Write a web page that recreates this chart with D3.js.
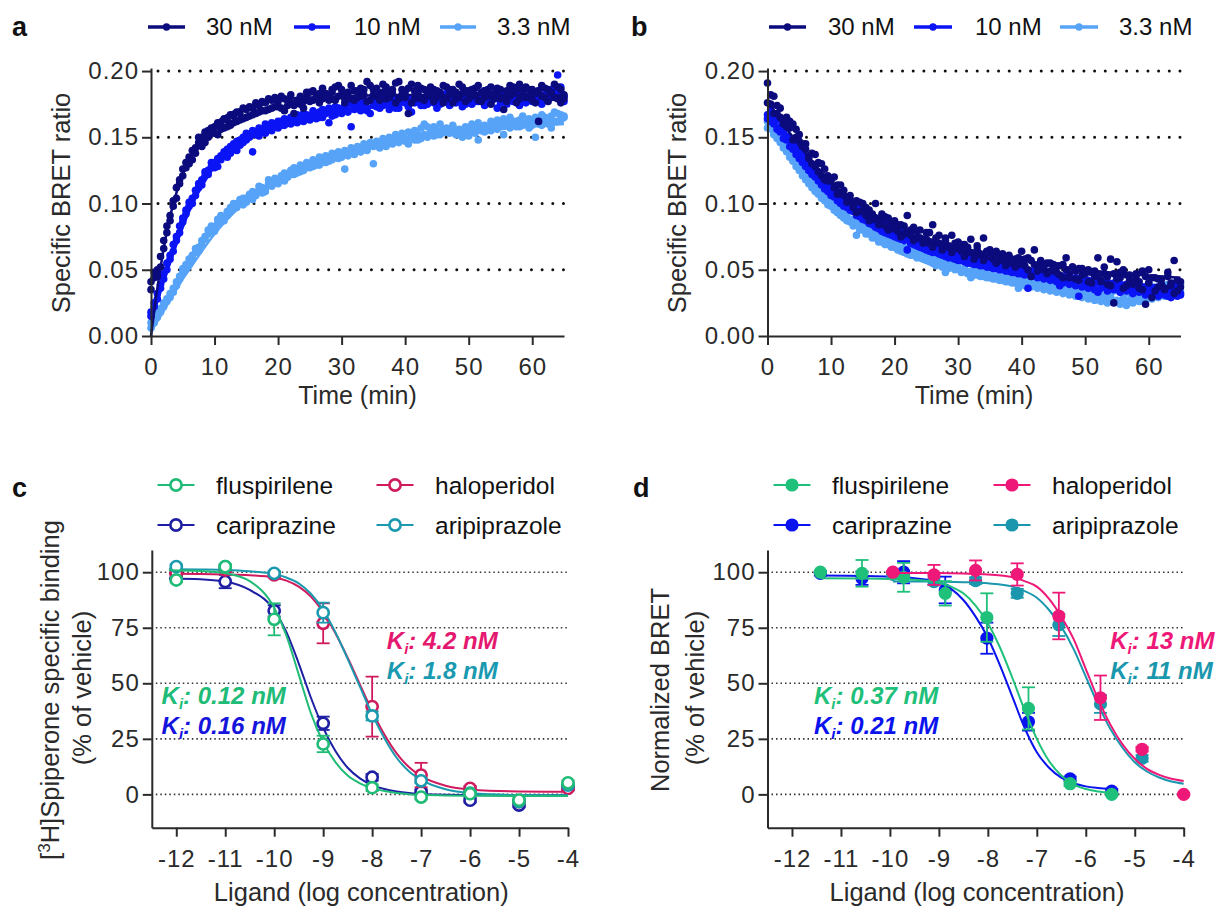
<!DOCTYPE html>
<html>
<head>
<meta charset="utf-8">
<script src="https://cdn.jsdelivr.net/npm/d3@7"></script>
<style>
  body { margin: 0; background: #fff; }
  svg text { font-family: "Liberation Sans", Arial, Helvetica, sans-serif; }
</style>
</head>
<body>
<svg id="chart" width="1220" height="910"></svg>
<script>
// ---------- kinetic BRET reads (a: association, b: dissociation), duplicate wells, one read every 0.5 min ----------
const timeStep = 0.5;

const assoc30 = [
  0.041,0.044,0.050,0.052,0.066,0.078,0.091,0.098,0.104,0.115,
  0.121,0.127,0.135,0.133,0.142,0.146,0.150,0.146,0.155,0.153,
  0.158,0.152,0.160,0.157,0.163,0.159,0.166,0.162,0.168,0.164,
  0.171,0.166,0.172,0.168,0.174,0.170,0.176,0.171,0.178,0.173,
  0.177,0.172,0.179,0.174,0.176,0.168,0.178,0.175,0.177,0.180,
  0.184,0.178,0.182,0.176,0.179,0.183,0.181,0.186,0.178,0.189,
  0.182,0.176,0.184,0.179,0.185,0.180,0.187,0.182,0.192,0.178,
  0.186,0.181,0.183,0.190,0.179,0.184,0.186,0.176,0.192,0.182,
  0.185,0.168,0.190,0.179,0.183,0.187,0.178,0.185,0.181,0.186,
  0.180,0.184,0.176,0.188,0.182,0.186,0.179,0.190,0.183,0.177,
  0.185,0.181,0.187,0.178,0.184,0.180,0.186,0.175,0.183,0.187,
  0.179,0.171,0.185,0.181,0.188,0.176,0.190,0.184,0.180,0.186,
  0.178,0.183,0.162,0.181,0.187,0.177,0.184,0.180,0.188,0.176,
  0.182];
const assoc30b = [
  0.035,0.048,0.045,0.060,0.072,0.083,0.087,0.102,0.112,0.118,
  0.126,0.131,0.130,0.140,0.138,0.150,0.143,0.154,0.150,0.157,
  0.153,0.161,0.156,0.164,0.158,0.167,0.161,0.169,0.163,0.172,
  0.165,0.173,0.167,0.176,0.169,0.177,0.170,0.179,0.172,0.180,
  0.173,0.181,0.170,0.178,0.182,0.174,0.177,0.181,0.172,0.184,
  0.177,0.185,0.179,0.183,0.187,0.180,0.178,0.184,0.188,0.181,
  0.186,0.179,0.183,0.189,0.178,0.185,0.181,0.186,0.177,0.189,
  0.182,0.187,0.178,0.184,0.188,0.180,0.183,0.191,0.179,0.186,
  0.180,0.187,0.176,0.185,0.189,0.179,0.186,0.182,0.188,0.177,
  0.185,0.181,0.189,0.179,0.186,0.176,0.184,0.180,0.188,0.185,
  0.179,0.186,0.182,0.189,0.177,0.185,0.181,0.188,0.179,0.184,
  0.186,0.180,0.177,0.189,0.183,0.186,0.179,0.185,0.188,0.181,
  0.186,0.176,0.185,0.189,0.180,0.186,0.183,0.190,0.179,0.186,
  0.179];
const assoc10 = [
  0.018,0.022,0.028,0.036,0.043,0.050,0.058,0.064,0.072,0.078,
  0.086,0.092,0.098,0.104,0.106,0.112,0.118,0.121,0.125,0.128,
  0.131,0.128,0.136,0.139,0.141,0.138,0.145,0.147,0.144,0.150,
  0.148,0.152,0.139,0.154,0.151,0.156,0.153,0.158,0.155,0.160,
  0.157,0.162,0.159,0.163,0.160,0.165,0.161,0.166,0.162,0.167,
  0.163,0.168,0.164,0.169,0.165,0.170,0.161,0.171,0.167,0.172,
  0.168,0.173,0.169,0.158,0.171,0.175,0.170,0.176,0.172,0.168,
  0.177,0.173,0.178,0.174,0.186,0.171,0.175,0.179,0.172,0.180,
  0.176,0.173,0.169,0.181,0.177,0.174,0.179,0.175,0.182,0.176,
  0.172,0.180,0.177,0.183,0.174,0.179,0.176,0.181,0.173,0.178,
  0.182,0.175,0.180,0.177,0.183,0.174,0.179,0.176,0.181,0.172,
  0.178,0.182,0.175,0.180,0.177,0.184,0.174,0.179,0.176,0.181,
  0.177,0.183,0.178,0.175,0.182,0.179,0.186,0.184,0.197,0.180,
  0.177];
const assoc10b = [
  0.015,0.025,0.032,0.039,0.047,0.055,0.061,0.069,0.075,0.083,
  0.089,0.095,0.101,0.100,0.110,0.115,0.114,0.124,0.122,0.131,
  0.127,0.134,0.133,0.137,0.135,0.143,0.141,0.140,0.148,0.146,
  0.153,0.150,0.155,0.152,0.157,0.154,0.160,0.156,0.161,0.158,
  0.162,0.159,0.164,0.161,0.165,0.162,0.167,0.163,0.168,0.164,
  0.166,0.170,0.167,0.165,0.171,0.168,0.172,0.166,0.173,0.169,
  0.171,0.174,0.170,0.175,0.172,0.176,0.173,0.177,0.170,0.178,
  0.174,0.177,0.172,0.179,0.175,0.181,0.176,0.172,0.180,0.177,
  0.182,0.175,0.179,0.176,0.183,0.178,0.174,0.181,0.177,0.184,
  0.178,0.175,0.182,0.179,0.176,0.183,0.180,0.177,0.182,0.175,
  0.179,0.184,0.177,0.181,0.178,0.185,0.176,0.182,0.179,0.183,
  0.176,0.181,0.178,0.184,0.179,0.182,0.177,0.185,0.180,0.178,
  0.183,0.179,0.185,0.181,0.178,0.184,0.180,0.186,0.182,0.188,
  0.181];
const assoc3 = [
  0.006,0.010,0.014,0.018,0.022,0.026,0.029,0.033,0.038,0.043,
  0.048,0.051,0.054,0.058,0.063,0.067,0.069,0.073,0.077,0.079,
  0.082,0.085,0.087,0.090,0.091,0.094,0.096,0.100,0.101,0.099,
  0.104,0.107,0.103,0.108,0.110,0.112,0.109,0.115,0.113,0.116,
  0.118,0.121,0.117,0.120,0.125,0.122,0.126,0.124,0.128,0.127,
  0.130,0.128,0.132,0.129,0.134,0.131,0.135,0.133,0.137,0.134,
  0.138,0.126,0.136,0.140,0.137,0.141,0.139,0.143,0.140,0.144,
  0.130,0.145,0.142,0.146,0.143,0.148,0.145,0.149,0.146,0.150,
  0.147,0.145,0.151,0.148,0.152,0.149,0.160,0.150,0.153,0.151,
  0.155,0.152,0.156,0.154,0.153,0.157,0.155,0.152,0.150,0.154,
  0.151,0.156,0.153,0.148,0.157,0.154,0.158,0.155,0.159,0.156,
  0.160,0.152,0.161,0.157,0.162,0.158,0.163,0.159,0.161,0.157,
  0.162,0.150,0.164,0.159,0.165,0.160,0.166,0.162,0.168,0.163,
  0.165];
const assoc3b = [
  0.010,0.013,0.017,0.021,0.025,0.028,0.032,0.036,0.041,0.045,
  0.051,0.054,0.058,0.061,0.066,0.064,0.072,0.075,0.080,0.083,
  0.079,0.088,0.091,0.087,0.094,0.097,0.100,0.097,0.103,0.104,
  0.101,0.104,0.109,0.106,0.113,0.108,0.111,0.118,0.116,0.119,
  0.115,0.118,0.123,0.120,0.122,0.127,0.123,0.129,0.125,0.131,
  0.127,0.133,0.129,0.135,0.131,0.136,0.132,0.138,0.135,0.139,
  0.135,0.140,0.137,0.142,0.138,0.143,0.139,0.145,0.141,0.146,
  0.143,0.147,0.144,0.149,0.145,0.150,0.146,0.152,0.148,0.153,
  0.149,0.154,0.150,0.155,0.148,0.157,0.152,0.158,0.154,0.158,
  0.152,0.160,0.154,0.157,0.155,0.159,0.152,0.156,0.154,0.158,
  0.156,0.160,0.157,0.161,0.155,0.159,0.156,0.162,0.158,0.163,
  0.158,0.164,0.159,0.165,0.160,0.162,0.158,0.166,0.161,0.164,
  0.159,0.165,0.160,0.167,0.161,0.164,0.157,0.169,0.162,0.167,
  0.166];

const dissoc30 = [
  0.191,0.175,0.181,0.168,0.172,0.160,0.165,0.157,0.160,0.150,
  0.152,0.143,0.145,0.134,0.138,0.128,0.131,0.121,0.126,0.117,
  0.119,0.112,0.114,0.108,0.110,0.104,0.106,0.097,0.102,0.094,
  0.100,0.091,0.095,0.088,0.100,0.086,0.092,0.083,0.089,0.081,
  0.087,0.079,0.084,0.077,0.091,0.076,0.082,0.074,0.080,0.072,
  0.078,0.070,0.084,0.071,0.076,0.068,0.074,0.067,0.076,0.066,
  0.071,0.064,0.069,0.063,0.073,0.062,0.068,0.061,0.074,0.060,
  0.065,0.058,0.064,0.057,0.062,0.056,0.061,0.055,0.058,0.054,
  0.064,0.053,0.059,0.045,0.065,0.052,0.057,0.050,0.055,0.049,
  0.054,0.048,0.053,0.044,0.059,0.047,0.052,0.043,0.051,0.046,
  0.049,0.041,0.048,0.045,0.059,0.042,0.047,0.039,0.058,0.025,
  0.056,0.044,0.050,0.038,0.046,0.041,0.045,0.036,0.049,0.024,
  0.050,0.029,0.044,0.037,0.043,0.035,0.048,0.040,0.057,0.034,
  0.041];
const dissoc30b = [
  0.176,0.182,0.168,0.174,0.165,0.163,0.158,0.162,0.148,0.156,
  0.147,0.145,0.141,0.136,0.130,0.137,0.124,0.130,0.118,0.121,
  0.117,0.120,0.107,0.114,0.106,0.101,0.103,0.099,0.093,0.101,
  0.094,0.097,0.087,0.092,0.089,0.084,0.088,0.090,0.080,0.086,
  0.082,0.084,0.075,0.083,0.078,0.080,0.072,0.079,0.074,0.070,
  0.073,0.078,0.067,0.074,0.070,0.065,0.072,0.068,0.063,0.070,
  0.066,0.069,0.060,0.067,0.063,0.058,0.065,0.062,0.057,0.064,
  0.060,0.063,0.055,0.061,0.058,0.053,0.060,0.057,0.052,0.059,
  0.055,0.058,0.050,0.057,0.054,0.049,0.056,0.052,0.047,0.055,
  0.051,0.053,0.046,0.054,0.050,0.044,0.052,0.049,0.042,0.051,
  0.047,0.050,0.040,0.049,0.046,0.041,0.052,0.045,0.038,0.047,
  0.043,0.048,0.036,0.046,0.042,0.039,0.047,0.041,0.035,0.045,
  0.040,0.044,0.034,0.043,0.039,0.036,0.045,0.038,0.032,0.042,
  0.037];
const dissoc10 = [
  0.167,0.171,0.160,0.163,0.154,0.155,0.148,0.149,0.141,0.142,
  0.134,0.137,0.128,0.131,0.122,0.125,0.117,0.119,0.111,0.115,
  0.106,0.110,0.102,0.106,0.098,0.102,0.095,0.098,0.091,0.095,
  0.088,0.092,0.085,0.089,0.082,0.087,0.079,0.084,0.077,0.081,
  0.075,0.079,0.073,0.077,0.065,0.075,0.069,0.073,0.067,0.071,
  0.065,0.069,0.063,0.067,0.062,0.066,0.060,0.064,0.059,0.062,
  0.057,0.061,0.056,0.060,0.055,0.059,0.054,0.057,0.053,0.056,
  0.052,0.055,0.051,0.054,0.050,0.053,0.049,0.052,0.048,0.051,
  0.047,0.050,0.036,0.049,0.046,0.048,0.045,0.047,0.044,0.047,
  0.043,0.046,0.038,0.045,0.042,0.044,0.041,0.044,0.030,0.043,
  0.040,0.042,0.039,0.042,0.033,0.041,0.038,0.041,0.037,0.040,
  0.044,0.039,0.036,0.039,0.035,0.038,0.041,0.037,0.034,0.037,
  0.040,0.036,0.033,0.036,0.039,0.035,0.030,0.035,0.038,0.034,
  0.032];
const dissoc10b = [
  0.164,0.162,0.166,0.156,0.158,0.149,0.151,0.143,0.146,0.137,
  0.140,0.131,0.134,0.125,0.128,0.120,0.122,0.114,0.117,0.109,
  0.112,0.105,0.108,0.100,0.104,0.097,0.100,0.094,0.096,0.090,
  0.093,0.087,0.090,0.084,0.087,0.081,0.084,0.078,0.082,0.076,
  0.080,0.074,0.078,0.072,0.075,0.070,0.073,0.068,0.072,0.066,
  0.070,0.064,0.068,0.063,0.066,0.061,0.065,0.059,0.063,0.058,
  0.062,0.057,0.060,0.055,0.059,0.054,0.058,0.053,0.057,0.052,
  0.056,0.051,0.054,0.050,0.053,0.049,0.052,0.048,0.051,0.047,
  0.050,0.046,0.049,0.045,0.048,0.044,0.047,0.043,0.046,0.042,
  0.046,0.041,0.045,0.040,0.044,0.039,0.043,0.038,0.042,0.037,
  0.042,0.036,0.041,0.035,0.040,0.036,0.039,0.034,0.038,0.035,
  0.038,0.033,0.037,0.034,0.036,0.032,0.035,0.033,0.034,0.031,
  0.035,0.032,0.034,0.030,0.033,0.031,0.032,0.029,0.031,0.030,
  0.031];
const dissoc3 = [
  0.162,0.158,0.154,0.151,0.146,0.145,0.139,0.138,0.132,0.131,
  0.125,0.124,0.118,0.119,0.112,0.113,0.107,0.108,0.102,0.103,
  0.098,0.098,0.093,0.095,0.089,0.091,0.086,0.087,0.076,0.084,
  0.080,0.082,0.077,0.079,0.074,0.076,0.071,0.074,0.069,0.072,
  0.067,0.069,0.064,0.067,0.062,0.065,0.061,0.063,0.059,0.062,
  0.057,0.060,0.055,0.058,0.054,0.057,0.048,0.055,0.052,0.054,
  0.052,0.049,0.051,0.048,0.044,0.049,0.046,0.048,0.045,0.047,
  0.044,0.046,0.043,0.045,0.042,0.045,0.041,0.044,0.040,0.036,
  0.042,0.039,0.041,0.038,0.040,0.037,0.040,0.036,0.039,0.035,
  0.038,0.034,0.037,0.033,0.036,0.032,0.036,0.031,0.035,0.030,
  0.034,0.031,0.035,0.027,0.034,0.031,0.027,0.033,0.030,0.034,
  0.026,0.033,0.029,0.024,0.032,0.028,0.033,0.029,0.035,0.030,
  0.036,0.032,0.037,0.033,0.038,0.034,0.039,0.035,0.040,0.036,
  0.039];
const dissoc3b = [
  0.157,0.160,0.152,0.149,0.148,0.142,0.142,0.135,0.136,0.128,
  0.129,0.121,0.122,0.115,0.116,0.109,0.111,0.104,0.106,0.099,
  0.101,0.095,0.096,0.091,0.092,0.087,0.088,0.083,0.085,0.080,
  0.082,0.077,0.079,0.074,0.076,0.071,0.073,0.069,0.071,0.067,
  0.069,0.065,0.066,0.063,0.064,0.061,0.062,0.059,0.061,0.058,
  0.059,0.056,0.058,0.053,0.056,0.052,0.055,0.051,0.053,0.050,
  0.051,0.048,0.050,0.047,0.049,0.046,0.048,0.045,0.047,0.044,
  0.046,0.043,0.045,0.042,0.044,0.041,0.043,0.040,0.042,0.039,
  0.041,0.038,0.040,0.037,0.039,0.036,0.038,0.035,0.037,0.034,
  0.036,0.033,0.035,0.032,0.034,0.031,0.033,0.030,0.032,0.029,
  0.031,0.028,0.030,0.027,0.030,0.026,0.029,0.025,0.028,0.026,
  0.027,0.024,0.026,0.023,0.027,0.025,0.029,0.026,0.030,0.027,
  0.031,0.028,0.032,0.029,0.033,0.030,0.034,0.031,0.035,0.032,
  0.034];

// fitted curves
const fitTimesA = [0,1,2,3,4,5,6,8,10,12,15,20,25,30,40,50,65];
const fitAssoc30 = [0,0.036,0.066,0.090,0.108,0.122,0.133,0.149,0.160,0.167,0.173,0.178,0.180,0.181,0.182,0.182,0.182];
const fitAssoc10 = [0.012,0.026,0.041,0.055,0.069,0.082,0.094,0.113,0.128,0.139,0.150,0.160,0.166,0.170,0.175,0.177,0.179];
const fitAssoc3  = [0.003,0.011,0.019,0.027,0.035,0.043,0.050,0.064,0.077,0.088,0.102,0.118,0.129,0.137,0.148,0.154,0.160];
const fitTimesB = [0,2,5,10,15,20,25,30,40,50,65];
const fitDissoc30 = [0.178,0.163,0.144,0.116,0.097,0.084,0.074,0.067,0.057,0.050,0.044];
const fitDissoc10 = [0.170,0.155,0.135,0.107,0.089,0.076,0.067,0.060,0.050,0.043,0.037];
const fitDissoc3  = [0.157,0.145,0.126,0.099,0.081,0.068,0.059,0.052,0.043,0.037,0.034];

const kineticLabels = ["30 nM", "10 nM", "3.3 nM"];
const kineticColors = ["#0b0b7d", "#0a14f5", "#56a3f8"];

// ---------- c: [3H]spiperone competition binding ----------
const logConcC = [-12,-11,-10,-9,-8,-7,-6,-5,-4];
const bindFlu = [96.5,102.5,78.8,22.7,3.0,-1.2,0.3,-2.6,5.2];
const bindFluErr = [1,1,7.2,3.7,1.5,1,1,1,1];
const bindCar = [97.3,95.8,82.6,32.0,7.7,1.2,-2.6,-4.8,3.2];
const bindCarErr = [1,3,2.5,3,1.5,1,1,1,1];
const bindHal = [99.5,101.0,98.8,77.0,39.5,8.7,2.7,-3.3,2.7];
const bindHalErr = [1,1,1,9,13.5,5.5,1,1,1];
const bindAri = [102.5,102.5,99.5,81.8,35.3,6.1,0.5,-3.3,4.2];
const bindAriErr = [1,1,1,4.5,2,1,1,1,1];

const fitGridC = [-12.15,-11.5,-11,-10.5,-10,-9.75,-9.5,-9.25,-9,-8.75,-8.5,-8.25,-8,-7.75,-7.5,-7.25,-7,-6.5,-6,-5,-4];
const fitFluC = [100.9,100.6,99.6,96,84,71.5,54,36.5,23.5,14.5,8.5,5,2.8,1.5,0.6,0.1,-0.2,-0.5,-0.6,-0.7,-0.7];
const fitCarC = [97.2,96.8,95.8,92,83,73,59,43.5,30,19.5,12,7.2,4.2,2.4,1.3,0.6,0.2,-0.2,-0.3,-0.4,-0.4];
const fitHalC = [99.3,99.2,99,98.6,97.6,96.2,93.5,89,82,72.5,61.5,49.5,37.5,27,18.5,12.3,8.2,3.9,2.2,1.3,1.2];
const fitAriC = [101.3,101.2,101,100.4,99.2,97.6,95,90.3,83,73,61,48.5,36,25.3,16.5,10.4,6.5,2.3,0.6,-0.3,-0.4];

// ---------- d: normalized BRET competition ----------
const logConcD1 = [-11.42,-10.57,-9.72,-8.87,-8.02,-7.17,-6.32,-5.47]; // fluspirilene, cariprazine
const logConcD2 = [-9.94,-9.1,-8.25,-7.4,-6.55,-5.7,-4.85,-4.0];      // haloperidol, aripiprazole
const bretFlu = [100,99.5,97.7,90.5,79.6,38.7,4.8,0];
const bretFluErr = [0,6,6.5,5.5,10.9,9.5,1,0.5];
const bretCar = [99.5,97.3,100,92,70.3,32.7,7,1.5];
const bretCarErr = [1,3,5,6,7,4,1,1];
const bretHal = [100,98.8,100.8,99,80.3,43.5,20.3,0];
const bretHalErr = [0.5,4.5,4.5,5,10.5,10,1,0.5];
const bretAri = [99,95.8,96.2,90.5,76.3,40.7,16.2,null];
const bretAriErr = [1,1.5,1.5,2,5,4,1.5,0];

const fitGridD1 = [-11.42,-10.5,-10,-9.5,-9,-8.75,-8.5,-8.25,-8,-7.75,-7.5,-7.25,-7,-6.75,-6.5,-6.25,-6,-5.75,-5.47];
const fitFluD = [97.3,97.2,97,96.6,95.3,93.5,90.5,85,77,66,52.5,38,25,15,8.5,4.5,2.4,1.3,0.7];
const fitCarD = [98.5,98.3,98,97.3,95.5,92.5,87.5,80,70.5,58,44,30,19,12,7.5,5,3.6,2.9,2.4];
const fitGridD2 = [-9.94,-9.5,-9,-8.5,-8,-7.5,-7.25,-7,-6.75,-6.5,-6.25,-6,-5.75,-5.5,-5.25,-5,-4.75,-4.5,-4.25,-4];
const fitHalD = [99.7,99.7,99.6,99.4,99,97.8,96,93.5,88,80,70,56.5,43,31.5,22.5,16,11.5,8.8,7,6];
const fitAriD = [95.8,95.8,95.7,95.5,95,93.5,91.5,88.5,83,75.5,65.5,53,40.5,29.5,21,14.5,10.3,7.6,5.8,4.8];

const drugNames = ["fluspirilene", "haloperidol", "cariprazine", "aripiprazole"];

// ---------- drawing ----------
const svg = d3.select("#chart");
const ink = "#2a2a2a";

function styleAxis(g, size) {
  g.attr("font-family", null).attr("font-size", size).attr("color", ink);
  g.select(".domain").attr("stroke-width", 2);
  g.selectAll(".tick line").attr("stroke-width", 2);
  g.selectAll(".tick text").attr("fill", ink).style("letter-spacing", "1px");
}

function panelLetter(x, y, t) {
  svg.append("text").attr("x", x).attr("y", y).attr("dy", "0.35em")
    .attr("font-size", 27).attr("font-weight", "bold").attr("fill", "#111").text(t);
}

function kineticPanel(cfg) {
  const x = d3.scaleLinear().domain([0, 65]).range([cfg.left, cfg.left + 413]);
  const y = d3.scaleLinear().domain([0, 0.2023]).range([336, 68]);
  const g = svg.append("g");

  // dotted reference lines
  g.selectAll(".grid").data([0.05, 0.1, 0.15, 0.2]).join("line")
    .attr("x1", x(0) + 7).attr("x2", x(65))
    .attr("y1", d => y(d)).attr("y2", d => y(d))
    .attr("stroke", "#111").attr("stroke-width", 3)
    .attr("stroke-linecap", "round").attr("stroke-dasharray", "0 10.67");

  const line = d3.line().x(d => x(d[0])).y(d => y(d[1])).curve(d3.curveMonotoneX);
  // draw 3.3 nM first so 30 nM sits on top
  [2, 1, 0].forEach(k => {
    const s = cfg.series[k];
    s.reps.forEach(rep => {
      g.append("g").selectAll("circle").data(rep).join("circle")
        .attr("cx", (d, i) => x(i * timeStep)).attr("cy", d => y(d))
        .attr("r", 3.8).attr("fill", kineticColors[k]);
    });
    g.append("path").datum(d3.zip(cfg.fitTimes, s.fit))
      .attr("fill", "none").attr("stroke", kineticColors[k])
      .attr("stroke-width", 2.5).attr("d", line);
  });

  const xAxis = g.append("g").attr("transform", `translate(0,${y(0)})`)
    .call(d3.axisBottom(x).tickValues([0, 10, 20, 30, 40, 50, 60])
      .tickSize(9).tickSizeOuter(0).tickPadding(13));
  styleAxis(xAxis, 24);
  const yAxis = g.append("g").attr("transform", `translate(${x(0)},0)`)
    .call(d3.axisLeft(y).tickValues([0, 0.05, 0.1, 0.15, 0.2])
      .tickFormat(d3.format(".2f")).tickSize(9).tickSizeOuter(0).tickPadding(3));
  styleAxis(yAxis, 24);

  g.append("text").attr("transform", `translate(${cfg.left - 90},203) rotate(-90)`)
    .attr("text-anchor", "middle").attr("dy", "0.35em")
    .attr("font-size", 25.5).attr("fill", ink).text("Specific BRET ratio");
  g.append("text").attr("x", cfg.left + 206.5).attr("y", 395).attr("dy", "0.35em")
    .attr("text-anchor", "middle").attr("font-size", 25).attr("fill", ink).text("Time (min)");

  // legend
  cfg.legend.forEach((L, k) => {
    const lg = svg.append("g");
    lg.append("line").attr("x1", L[0]).attr("x2", L[1]).attr("y1", 27).attr("y2", 27)
      .attr("stroke", kineticColors[k]).attr("stroke-width", 3.5);
    lg.append("circle").attr("cx", (L[0] + L[1]) / 2).attr("cy", 27).attr("r", 3.7)
      .attr("fill", kineticColors[k]);
    lg.append("text").attr("x", L[2]).attr("y", 27).attr("dy", "0.35em")
      .attr("font-size", 24).attr("fill", "#111").text(kineticLabels[k]);
  });
}

kineticPanel({
  left: 151, fitTimes: fitTimesA,
  series: [{reps: [assoc30, assoc30b], fit: fitAssoc30},
           {reps: [assoc10, assoc10b], fit: fitAssoc10},
           {reps: [assoc3, assoc3b], fit: fitAssoc3}],
  legend: [[148, 185, 206], [294, 330, 354], [440, 476, 497]]
});
kineticPanel({
  left: 767.5, fitTimes: fitTimesB,
  series: [{reps: [dissoc30, dissoc30b], fit: fitDissoc30},
           {reps: [dissoc10, dissoc10b], fit: fitDissoc10},
           {reps: [dissoc3, dissoc3b], fit: fitDissoc3}],
  legend: [[769, 806, 828], [914, 952, 975], [1060, 1098, 1119]]
});
panelLetter(12, 27, "a");
panelLetter(631, 27, "b");

function ki(g, px, py, color, value) {
  const t = g.append("text").attr("x", px).attr("y", py)
    .attr("font-size", 24).attr("font-weight", "bold").attr("font-style", "italic").attr("fill", color);
  t.append("tspan").text("K");
  t.append("tspan").attr("font-size", 15).attr("dy", 5).text("i");
  t.append("tspan").attr("dy", -5).text(": " + value);
}

function competitionPanel(cfg) {
  const x = d3.scaleLinear().domain([-12.5, -4]).range([cfg.left, cfg.left + 416.2]);
  const y = d3.scaleLinear().domain([-15, 110]).range([827.7, 550]);
  const g = svg.append("g");

  g.selectAll(".grid").data([0, 25, 50, 75, 100]).join("line")
    .attr("x1", x(-12.5) + 4).attr("x2", x(-4))
    .attr("y1", d => y(d)).attr("y2", d => y(d))
    .attr("stroke", "#333").attr("stroke-width", 1.6).attr("stroke-dasharray", "1.5 3");

  const line = d3.line().x(d => x(d[0])).y(d => y(d[1])).curve(d3.curveMonotoneX);
  cfg.series.forEach(s => {
    const sg = g.append("g");
    sg.append("path").datum(d3.zip(s.fitX, s.fit))
      .attr("fill", "none").attr("stroke", s.color).attr("stroke-width", 2).attr("d", line);
    const pts = d3.zip(s.xs, s.ys, s.err).filter(d => d[1] != null);
    const eb = sg.selectAll(".eb").data(pts.filter(d => d[2] > 0)).join("g")
      .attr("stroke", s.color).attr("stroke-width", 1.8);
    eb.append("line").attr("x1", d => x(d[0])).attr("x2", d => x(d[0]))
      .attr("y1", d => y(d[1] - d[2])).attr("y2", d => y(d[1] + d[2]));
    eb.append("line").attr("x1", d => x(d[0]) - 6.5).attr("x2", d => x(d[0]) + 6.5)
      .attr("y1", d => y(d[1] + d[2])).attr("y2", d => y(d[1] + d[2]));
    eb.append("line").attr("x1", d => x(d[0]) - 6.5).attr("x2", d => x(d[0]) + 6.5)
      .attr("y1", d => y(d[1] - d[2])).attr("y2", d => y(d[1] - d[2]));
    sg.selectAll("circle").data(pts).join("circle")
      .attr("cx", d => x(d[0])).attr("cy", d => y(d[1]))
      .attr("r", cfg.open ? 5.6 : 6.6)
      .attr("fill", cfg.open ? "#fff" : s.color)
      .attr("stroke", cfg.open ? s.color : "none").attr("stroke-width", 2.6);
  });

  const xAxis = g.append("g").attr("transform", `translate(0,827.7)`)
    .call(d3.axisBottom(x).tickValues(d3.range(-12, -3)).tickFormat(d => String(d))
      .tickSize(9).tickSizeOuter(0).tickPadding(13));
  styleAxis(xAxis, 24);
  const yAxis = g.append("g").attr("transform", `translate(${cfg.left},0)`)
    .call(d3.axisLeft(y).tickValues([0, 25, 50, 75, 100])
      .tickSize(9).tickSizeOuter(0).tickPadding(3));
  styleAxis(yAxis, 24);

  g.append("text").attr("x", cfg.left + 209.5).attr("y", 901)
    .attr("text-anchor", "middle").attr("font-size", 25.5).attr("fill", ink)
    .text("Ligand (log concentration)");
  const t1 = g.append("text").attr("transform", `translate(${cfg.title[0]},690) rotate(-90)`)
    .attr("text-anchor", "middle").attr("dy", "0.35em").attr("font-size", 25.5).attr("fill", ink);
  if (cfg.open) {
    t1.append("tspan").text("[");
    t1.append("tspan").attr("font-size", 17).attr("dy", -9).text("3");
    t1.append("tspan").attr("dy", 9).text("H]Spiperone specific binding");
  } else {
    t1.text("Normalized BRET");
  }
  g.append("text").attr("transform", `translate(${cfg.title[1]},688) rotate(-90)`)
    .attr("text-anchor", "middle").attr("dy", "0.35em").attr("font-size", 25.5).attr("fill", ink)
    .text("(% of vehicle)");

  cfg.ki.forEach(k => ki(g, x(k[0]), y(k[1]), k[2], k[3]));

  // legend: two rows, two columns
  drugNames.forEach((name, i) => {
    const col = i % 2, row = Math.floor(i / 2);
    const lx = cfg.legendX[col], ly = row === 0 ? 485 : 525;
    const color = cfg.legendColors[i];
    const lg = svg.append("g");
    lg.append("line").attr("x1", lx - 18.5).attr("x2", lx + 18.5).attr("y1", ly).attr("y2", ly)
      .attr("stroke", color).attr("stroke-width", 2);
    lg.append("circle").attr("cx", lx).attr("cy", ly).attr("r", cfg.open ? 5.6 : 6.6)
      .attr("fill", cfg.open ? "#fff" : color).attr("stroke", cfg.open ? color : "none")
      .attr("stroke-width", 2.6);
    lg.append("text").attr("x", lx + 40).attr("y", ly).attr("dy", "0.35em")
      .attr("font-size", 24.5).attr("fill", "#111").text(name);
  });
}

// colours per drug (legend order: fluspirilene, haloperidol, cariprazine, aripiprazole)
const colorsC = ["#20bb76", "#cf1a5e", "#1e1fa3", "#1b99ae"];
const colorsD = ["#1fc07a", "#ee1878", "#0a12ee", "#1a97ad"];

competitionPanel({
  left: 151.8, open: true, title: [49.7, 82], legendX: [176, 395], legendColors: colorsC,
  series: [
    {color: colorsC[2], xs: logConcC, ys: bindCar, err: bindCarErr, fitX: fitGridC, fit: fitCarC},
    {color: colorsC[1], xs: logConcC, ys: bindHal, err: bindHalErr, fitX: fitGridC, fit: fitHalC},
    {color: colorsC[3], xs: logConcC, ys: bindAri, err: bindAriErr, fitX: fitGridC, fit: fitAriC},
    {color: colorsC[0], xs: logConcC, ys: bindFlu, err: bindFluErr, fitX: fitGridC, fit: fitFluC}
  ],
  ki: [[-7.7, 65.5, "#e4186e", "4.2 nM"], [-7.7, 52, "#1a9ab0", "1.8 nM"],
       [-12.3, 40.5, "#20bb76", "0.12 nM"], [-12.3, 27, "#1414dc", "0.16 nM"]]
});
competitionPanel({
  left: 767.5, open: false, title: [660.5, 695.5], legendX: [792, 1012], legendColors: colorsD,
  series: [
    {color: colorsD[2], xs: logConcD1, ys: bretCar, err: bretCarErr, fitX: fitGridD1, fit: fitCarD},
    {color: colorsD[3], xs: logConcD2, ys: bretAri, err: bretAriErr, fitX: fitGridD2, fit: fitAriD},
    {color: colorsD[0], xs: logConcD1, ys: bretFlu, err: bretFluErr, fitX: fitGridD1, fit: fitFluD},
    {color: colorsD[1], xs: logConcD2, ys: bretHal, err: bretHalErr, fitX: fitGridD2, fit: fitHalD}
  ],
  ki: [[-5.5, 65.5, "#ee1878", "13 nM"], [-5.5, 52, "#1a97ad", "11 nM"],
       [-11.55, 40.5, "#1fc07a", "0.37 nM"], [-11.55, 27, "#0a12ee", "0.21 nM"]]
});
panelLetter(12, 488, "c");
panelLetter(633, 488, "d");
</script>
</body>
</html>
